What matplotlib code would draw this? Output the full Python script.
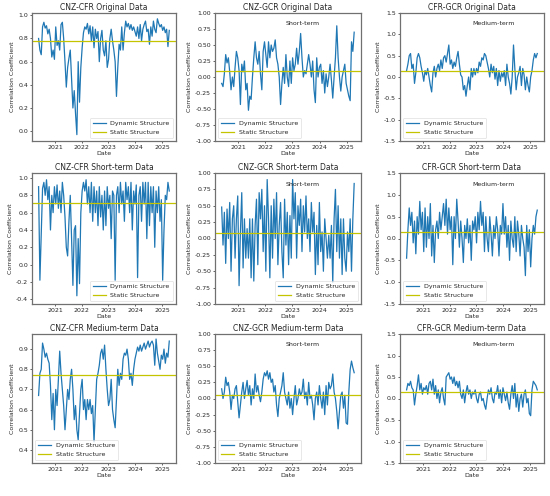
import matplotlib
matplotlib.use("Agg")
import matplotlib.pyplot as plt
import matplotlib.dates as mdates
import matplotlib.ticker as mticker
import pandas as pd

# ---------------- data ----------------
start_date = "2020-05-22"
end_date = "2025-04-12"

titles = [
    "CNZ-CFR Original Data", "CNZ-GCR Original Data", "CFR-GCR Original Data",
    "CNZ-CFR Short-term Data", "CNZ-GCR Short-term Data", "CFR-GCR Short-term Data",
    "CNZ-CFR Medium-term Data", "CNZ-GCR Medium-term Data", "CFR-GCR Medium-term Data",
]

cnz_cfr_orig = [
    0.80, 0.70, 0.66, 0.90, 0.94, 0.89, 0.91, 0.84, 0.88, 0.80,
    0.64, 0.70, 0.62, 0.90, 0.74, 0.78, 0.70, 0.92, 0.94, 0.80,
    0.60, 0.38, 0.55, 0.63, 0.70, 0.45, 0.20, 0.35, 0.15, -0.03,
    0.60, 0.25, 0.55, 0.72, 0.85, 0.90, 0.88, 0.93, 0.84, 0.91,
    0.78, 0.90, 0.72, 0.88, 0.80, 0.86, 0.60, 0.80, 0.87, 0.70,
    0.65, 0.78, 0.55, 0.62, 0.80, 0.88, 0.78, 0.70, 0.60, 0.30,
    0.55, 0.75, 0.70, 0.90, 0.70, 0.85, 0.95, 0.90, 0.93, 0.88,
    0.92, 0.87, 0.90, 0.86, 0.82, 0.90, 0.80, 0.92, 0.78, 0.88,
    0.92, 0.95, 0.86, 0.88, 0.75, 0.90, 0.82, 0.95, 0.88, 0.85,
    0.97, 0.93, 0.90, 0.92, 0.87, 0.90, 0.85, 0.88, 0.73, 0.87,
]

cnz_gcr_orig = [
    -0.10, -0.15, 0.05, 0.35, 0.22, 0.30, 0.08, -0.20, 0.00, -0.15,
    0.15, 0.40, 0.30, 0.10, -0.43, 0.20, 0.08, 0.25, -0.20, -0.10,
    -0.52, -0.30, -0.35, 0.00, 0.30, 0.55, 0.30, 0.20, 0.40, 0.05,
    -0.20, 0.40, 0.55, 0.35, 0.15, 0.55, 0.30, 0.50, 0.40, 0.45,
    0.58, 0.30, 0.20, 0.00, -0.43, -0.10, 0.15, -0.10, 0.35, 0.00,
    -0.15, 0.25, -0.10, 0.30, 0.10, 0.20, 0.45, 0.20, 0.40, 0.68,
    0.30, 0.00, 0.10, 0.05, 0.20, 0.35, 0.20, 0.00, 0.25, -0.20,
    -0.40, 0.30, 0.00, 0.15, 0.20, -0.10, 0.10, -0.25, 0.05, -0.15,
    0.00, 0.20, -0.05, -0.33, 0.00, 0.30, 0.80, 0.30, 0.00, -0.22,
    0.00, 0.10, 0.20, -0.10, -0.20, -0.30, -0.37, 0.55, 0.40, 0.70,
]

cfr_gcr_orig = [
    0.15, 0.30, 0.50, 0.55, 0.20, 0.30, -0.15, 0.10, 0.45, 0.55,
    0.45, 0.25, 0.10, -0.10, 0.15, 0.05, 0.20, 0.00, -0.20, -0.35,
    0.10, 0.25, 0.00, 0.20, 0.30, 0.15, 0.40, 0.20, 0.45, 0.50,
    0.35, 0.55, 0.75, 0.30, 0.40, 0.20, 0.35, 0.25, 0.45, 0.60,
    0.30, 0.05, 0.00, -0.30, -0.20, -0.45, -0.20, 0.00, -0.30, 0.20,
    0.00, 0.20, 0.05, 0.20, 0.10, 0.35, 0.25, 0.45, 0.40, 0.55,
    0.50, 0.35, 0.20, 0.00, 0.30, 0.10, 0.25, -0.05, 0.20, -0.20,
    0.15, -0.10, 0.10, 0.00, 0.15, -0.20, 0.30, 0.00, -0.15, -0.40,
    0.00, 0.75, 0.20, -0.30, 0.00, 0.10, 0.25, -0.20, 0.20, 0.05,
    -0.30, 0.00, -0.20, -0.35, 0.00, 0.15, 0.40, 0.55, 0.45, 0.55,
]

cnz_cfr_short = [
    0.90, -0.18, 0.35, 0.88, 0.95, 0.80, 0.98, 0.75, 0.90, 0.40,
    0.80, 0.60, 0.90, 0.70, 0.92, 0.65, 0.85, 0.60, 0.95, 0.80,
    0.55, 0.20, 0.10, 0.50, 0.80, 0.30, -0.24, 0.40, 0.45, -0.36,
    0.30, -0.22, 0.60, 0.85, 0.95, 0.85, 0.98, 0.70, 0.90, 0.60,
    0.95, 0.50, 0.90, 0.60, 0.85, 0.45, 0.90, 0.55, 0.80, 0.40,
    0.85, 0.45, 0.90, 0.65, 0.80, 0.30, 0.85, 0.80, -0.18, 0.80,
    0.90, 0.60, 0.95, 0.70, 0.85, 0.50, 0.95, 0.75, 0.90, 0.60,
    0.95, 0.40, 0.85, 0.70, 0.92, -0.15, 0.80, 0.90, 0.50, 0.95,
    0.70, 0.95, 0.30, 0.95, 0.45, 0.90, 0.60, 0.90, 0.20, 0.85,
    0.60, 0.90, 0.50, 0.75, -0.18, 0.40, 0.80, 0.75, 0.95, 0.85,
]

cnz_gcr_short = [
    0.48, -0.10, 0.40, -0.38, 0.45, 0.00, 0.55, -0.50, 0.30, 0.50,
    -0.30, 0.30, 0.65, -0.72, 0.10, 0.70, -0.45, 0.30, -0.30, 0.15,
    -0.30, 0.30, -0.60, 0.30, -0.65, 0.20, 0.60, -0.40, 0.70, 0.30,
    0.75, -0.20, 0.50, -0.50, 0.90, 0.30, -0.60, 0.50, -0.30, 0.60,
    0.00, 0.70, -0.40, 0.20, 0.55, -0.20, -0.60, 0.60, -0.10, 0.40,
    -0.40, 0.35, -0.30, 0.90, 0.30, 0.70, -0.30, 0.50, 0.20, 0.60,
    -0.20, 0.50, 0.10, 0.65, 0.00, 0.30, -0.20, 0.55, 0.10, 0.40,
    -0.55, 0.20, -0.40, 0.55, -0.20, 0.10, -0.50, 0.30, 0.00, -0.30,
    0.05, -0.30, 0.20, -0.67, 0.30, 0.75, -0.20, 0.50, -0.30, 0.30,
    -0.55, 0.30, -0.30, -0.50, 0.10, -0.20, 0.30, -0.50, 0.30, 0.84,
]

cfr_gcr_short = [
    -0.45, 0.20, 0.70, 0.30, 0.60, -0.10, 0.40, -0.35, 0.50, 0.10,
    0.85, 0.20, 0.60, -0.30, 0.70, -0.20, 0.50, 0.00, 0.80, -0.40,
    0.30, -0.55, 0.20, 0.40, 0.00, 0.60, 0.20, 0.50, 0.80, 0.30,
    0.90, 0.10, 0.70, 0.20, 0.50, -0.60, 0.50, 0.00, 0.90, 0.40,
    -0.20, 0.40, 0.00, -0.55, 0.30, 0.00, 0.45, -0.10, 0.30, -0.50,
    0.40, 0.20, 0.50, -0.10, 0.60, 0.20, 0.85, 0.30, 0.60, -0.30,
    0.50, 0.00, -0.30, 0.50, 0.10, -0.40, 0.30, 0.00, 0.50, 0.20,
    -0.40, 0.30, 0.10, 0.80, 0.10, 0.50, -0.20, 0.30, -0.50, 0.40,
    0.00, -0.20, 0.50, -0.30, 0.40, 0.10, -0.40, 0.30, 0.00, -0.20,
    -0.85, 0.30, -0.30, 0.20, -0.65, 0.00, 0.30, 0.10, 0.50, 0.65,
]

cnz_cfr_medium = [
    0.67, 0.78, 0.80, 0.93, 0.90, 0.86, 0.88, 0.85, 0.83, 0.72,
    0.55, 0.68, 0.50, 0.70, 0.62, 0.75, 0.89, 0.78, 0.70, 0.62,
    0.50, 0.60, 0.70, 0.65, 0.75, 0.80, 0.70, 0.55, 0.62, 0.50,
    0.45, 0.58, 0.70, 0.75, 0.60, 0.65, 0.55, 0.65, 0.60, 0.65,
    0.58, 0.62, 0.44, 0.60, 0.75, 0.78, 0.82, 0.88, 0.90, 0.85,
    0.92, 0.80, 0.70, 0.62, 0.65, 0.75, 0.60, 0.55, 0.51, 0.65,
    0.80, 0.72, 0.78, 0.75, 0.85, 0.88, 0.87, 0.90, 0.85, 0.75,
    0.78, 0.72, 0.80, 0.85, 0.88, 0.91, 0.89, 0.92, 0.89, 0.91,
    0.93, 0.90, 0.92, 0.94, 0.91, 0.93, 0.94, 0.92, 0.82, 0.95,
    0.88, 0.84, 0.80, 0.87, 0.85, 0.90, 0.83, 0.88, 0.86, 0.94,
]

cnz_gcr_medium = [
    0.15, 0.00, 0.10, 0.33, 0.20, 0.25, 0.10, -0.17, 0.05, 0.00,
    0.15, 0.20, -0.05, -0.30, -0.10, 0.10, 0.25, 0.00, 0.15, 0.28,
    0.05, 0.20, -0.10, 0.15, 0.00, 0.38, 0.10, 0.20, 0.05, -0.05,
    0.10, 0.30, 0.40, 0.35, 0.43, 0.30, 0.40, 0.25, 0.30, 0.10,
    0.20, -0.10, -0.28, 0.00, 0.10, 0.20, 0.40, 0.10, 0.00, -0.10,
    0.10, -0.15, 0.00, -0.25, 0.00, 0.20, -0.10, 0.00, 0.15, 0.05,
    0.10, 0.30, 0.00, 0.10, -0.10, 0.25, 0.00, 0.05, -0.10, -0.33,
    0.00, 0.10, -0.10, 0.20, 0.00, -0.15, 0.10, -0.25, 0.20, -0.10,
    0.25, 0.15, 0.20, 0.38, 0.10, 0.00, -0.20, -0.47, -0.20, 0.05,
    0.10, -0.15, 0.05, -0.38, -0.40, 0.10, 0.45, 0.58, 0.48, 0.40,
]

cfr_gcr_medium = [
    0.20, 0.35, 0.30, 0.40, 0.25, 0.20, -0.15, 0.10, 0.30, 0.55,
    0.20, 0.35, 0.10, 0.25, 0.20, 0.30, 0.10, 0.35, 0.40, 0.20,
    0.45, 0.10, 0.30, 0.00, 0.20, -0.10, 0.15, 0.25, 0.00, -0.15,
    0.50, 0.55, 0.60, 0.45, 0.50, 0.35, 0.50, 0.30, 0.40, 0.25,
    0.40, 0.10, 0.00, 0.20, -0.10, 0.15, 0.30, 0.10, 0.20, 0.00,
    0.15, 0.10, 0.20, 0.00, -0.10, 0.10, 0.15, -0.05, 0.00, -0.15,
    -0.25, 0.00, 0.20, 0.10, 0.25, 0.00, -0.10, 0.15, 0.10, 0.30,
    0.00, 0.20, -0.10, 0.25, 0.10, -0.05, 0.15, -0.10, -0.25, 0.10,
    0.30, 0.00, 0.35, -0.20, 0.10, -0.30, 0.00, 0.10, -0.20, 0.10,
    0.20, -0.10, 0.00, -0.35, -0.40, 0.20, 0.40, 0.35, 0.30, 0.20,
]

series = [cnz_cfr_orig, cnz_gcr_orig, cfr_gcr_orig,
          cnz_cfr_short, cnz_gcr_short, cfr_gcr_short,
          cnz_cfr_medium, cnz_gcr_medium, cfr_gcr_medium]

static_values = [0.775, 0.09, 0.15, 0.71, 0.08, 0.14, 0.77, 0.06, 0.15]

annotations = [None, "Short-term", "Medium-term"] * 3
legend_labels = ["Dynamic Structure", "Static Structure"]

# ---------------- styling / layout ----------------
W, H = 550, 496
fig = plt.figure(figsize=(W / 100, H / 100), dpi=100)

col_left = [32, 215, 400]
col_width = [144, 146, 144]
row_top = [13, 173, 334]
row_bottom = [141, 304, 463]

ylims = [(-0.085, 1.02), (-1.0, 1.0), (-1.5, 1.5),
         (-0.455, 1.058), (-1.0, 1.0), (-1.5, 1.5),
         (0.335, 0.975), (-1.0, 1.0), (-1.5, 1.5)]
yticks_step = [0.2, 0.25, 0.5, 0.2, 0.25, 0.5, 0.1, 0.25, 0.5]
yfmt = ["%.1f", "%.2f", "%.1f", "%.1f", "%.2f", "%.1f", "%.1f", "%.2f", "%.1f"]
legend_locs = ["lower right", "lower left", "lower left",
               "lower right", "lower right", "lower left",
               "lower left", "lower left", "lower left"]

fs = 4.5
title_fs = 5.5
text_color = "#262626"
spine_color = "#707070"

dates = pd.date_range(start_date, end_date, periods=len(cnz_cfr_orig))
xmin = pd.Timestamp("2020-02-22")
xmax = pd.Timestamp("2025-07-13")

for k in range(9):
    r, c = divmod(k, 3)
    left = col_left[c] / W
    bottom = 1 - row_bottom[r] / H
    width = col_width[c] / W
    height = (row_bottom[r] - row_top[r]) / H
    ax = fig.add_axes([left, bottom, width, height])

    ax.plot(dates, series[k], color="#1f77b4", linewidth=0.9,
            label=legend_labels[0])
    ax.axhline(static_values[k], color="#c4c400", linewidth=0.9,
               label=legend_labels[1])

    ax.set_xlim(xmin, xmax)
    ax.set_ylim(*ylims[k])
    ax.xaxis.set_major_locator(mdates.YearLocator())
    ax.xaxis.set_major_formatter(mdates.DateFormatter("%Y"))
    ax.yaxis.set_major_locator(mticker.MultipleLocator(yticks_step[k]))
    ax.yaxis.set_major_formatter(mticker.FormatStrFormatter(yfmt[k]))

    ax.tick_params(labelsize=fs, colors=text_color, length=1.6,
                   width=0.5, pad=1.2)
    for sp in ax.spines.values():
        sp.set_color(spine_color)
        sp.set_linewidth(0.9)

    ax.set_title(titles[k], fontsize=title_fs, color=text_color, pad=2.5)
    ax.set_xlabel("Date", fontsize=fs, color=text_color, labelpad=1)
    ax.set_ylabel("Correlation Coefficient", fontsize=fs, color=text_color,
                  labelpad=2)

    if annotations[k]:
        xpos = 0.6 if annotations[k] == "Short-term" else 0.65
        ax.text(xpos, 0.915, annotations[k], transform=ax.transAxes,
                fontsize=fs, color=text_color, ha="center", va="center")

    leg = ax.legend(loc=legend_locs[k], fontsize=fs, frameon=True,
                    borderpad=0.5, handlelength=2.0)
    leg.get_frame().set_linewidth(0.4)
    leg.get_frame().set_edgecolor("#cccccc")
    for t in leg.get_texts():
        t.set_color(text_color)

fig.savefig("out.png", dpi=100)
